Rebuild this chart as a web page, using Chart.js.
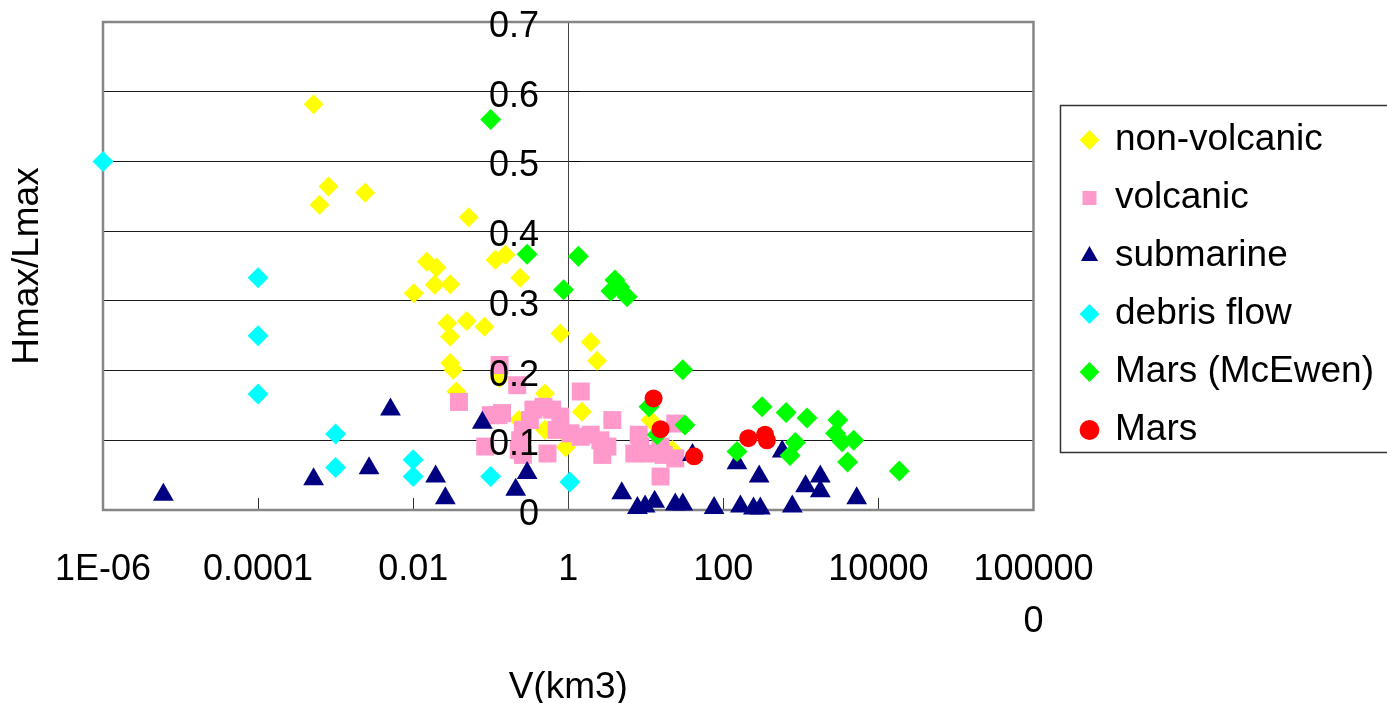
<!DOCTYPE html>
<html>
<head>
<meta charset="utf-8">
<title>Hmax/Lmax vs V</title>
<script src="https://cdn.jsdelivr.net/npm/chart.js@4.4.1/dist/chart.umd.min.js"></script>
<style>
  html, body { margin: 0; padding: 0; background: #fff; }
  canvas { display: block; }
</style>
</head>
<body>
<canvas id="chart" width="1387" height="703"></canvas>
<script>
// axis ticks
var xTickValues = [1e-6, 1e-4, 1e-2, 1, 100, 1e4, 1e6];
var xTickLabels = ['1E-06', '0.0001', '0.01', '1', '100', '10000', ['100000', '0']];
var yTickLabels = ['0', '0.1', '0.2', '0.3', '0.4', '0.5', '0.6', '0.7'];
var yAxisCross = 1;        // value axis crosses at V = 1
var yLabelCross = 0.42;    // labels end a little left of the crossing

// series: V (km3) and Hmax/Lmax
var nonVolcanicV = [5.2e-4, 8.1e-4, 6.2e-4, 2.4e-3, 0.052, 0.115, 0.155, 0.24, 0.015, 0.020, 0.019, 0.030,
  0.0102, 0.0275, 0.049, 0.030, 0.083, 0.79, 1.95, 2.35, 0.030, 0.033, 0.036, 0.13, 0.50, 1.5, 0.79, 0.50,
  0.93, 11.5, 22, 0.23];
var nonVolcanicH = [0.582, 0.464, 0.438, 0.455, 0.420, 0.359, 0.366, 0.333, 0.356, 0.348, 0.323, 0.324,
  0.311, 0.268, 0.271, 0.249, 0.263, 0.253, 0.241, 0.214, 0.211, 0.201, 0.170, 0.189, 0.167, 0.141, 0.115, 0.115,
  0.090, 0.129, 0.086, 0.129];

var volcanicV = [0.13, 0.22, 0.039, 1.45, 0.126, 0.10, 0.14, 0.355, 0.48, 0.32, 0.62, 0.79, 0.26, 0.24,
  0.085, 0.23, 0.26, 0.54, 0.71, 1.07, 1.45, 1.95, 2.6, 3.2, 2.75, 3.7, 8.1, 8.5, 7.1, 11.5, 15.5, 17, 24, 24, 15.5];
var volcanicH = [0.208, 0.179, 0.155, 0.170, 0.136, 0.136, 0.139, 0.144, 0.148, 0.129, 0.144, 0.134, 0.115, 0.100,
  0.091, 0.086, 0.079, 0.081, 0.115, 0.110, 0.105, 0.108, 0.100, 0.091, 0.079, 0.129, 0.108, 0.091, 0.081, 0.081,
  0.091, 0.079, 0.074, 0.124, 0.048];

var submarineV = [6.0e-6, 5.2e-4, 2.7e-3, 5.1e-3, 0.0195, 0.026, 0.078, 0.21, 0.295, 4.9, 7.8, 9.8, 13, 24, 30,
  76, 166, 245, 300, 290, 150, 40, 575, 775, 1150, 1780, 1780, 5250];
var submarineH = [0.022, 0.044, 0.060, 0.144, 0.048, 0.017, 0.125, 0.029, 0.053, 0.024, 0.003, 0.005, 0.012, 0.008, 0.008,
  0.003, 0.005, 0.002, 0.002, 0.048, 0.067, 0.079, 0.084, 0.005, 0.034, 0.048, 0.027, 0.017];

var debrisFlowV = [1e-6, 1e-4, 1e-4, 1e-4, 1e-3, 1e-3, 0.01, 0.01, 0.1, 1.05];
var debrisFlowH = [0.5, 0.333, 0.25, 0.1665, 0.109, 0.061, 0.072, 0.048, 0.048, 0.040];

var marsMcEwenV = [0.10, 0.295, 1.35, 0.87, 3.55, 4.0, 4.6, 5.75, 30, 11, 32, 14, 150, 316, 645, 1200, 850, 725,
  3000, 2800, 3400, 4800, 4000, 18600];
var marsMcEwenH = [0.560, 0.367, 0.364, 0.316, 0.314, 0.330, 0.320, 0.306, 0.201, 0.148, 0.122, 0.108, 0.084, 0.148,
  0.140, 0.132, 0.097, 0.078, 0.129, 0.110, 0.098, 0.100, 0.069, 0.056];

var marsV = [12.6, 15.5, 42, 210, 345, 365];
var marsH = [0.160, 0.116, 0.077, 0.103, 0.108, 0.100];

var FONT = "'Liberation Sans', Arial, sans-serif";

function pts(xs, ys) {
  return xs.map(function(v, i) { return { x: v, y: ys[i] }; });
}

function series(label, xs, ys, color, style, radius, order) {
  return {
    label: label,
    data: pts(xs, ys),
    backgroundColor: color,
    borderColor: color,
    borderWidth: 0,
    pointStyle: style,
    pointRadius: radius,
    pointHoverRadius: radius,
    clip: false,
    order: order
  };
}

var framePlugin = {
  id: 'frame',
  beforeDatasetsDraw: function(chart) {
    var a = chart.chartArea, ctx = chart.ctx;
    ctx.save();
    ctx.strokeStyle = '#868686';
    ctx.lineWidth = 2.5;
    ctx.strokeRect(a.left, a.top, a.right - a.left, a.bottom - a.top);
    ctx.restore();
  },
  afterDraw: function(chart) {
    var hb = chart.legend.legendHitBoxes;
    if (!hb || !hb.length) return;
    var first = hb[0], last = hb[hb.length - 1];
    var left = first.left - 22, top = first.top - 16;
    var bottom = last.top + last.height + 4;
    var ctx = chart.ctx;
    ctx.save();
    ctx.strokeStyle = '#333';
    ctx.lineWidth = 1.5;
    ctx.strokeRect(left, top, chart.width - left + 10, bottom - top);
    ctx.restore();
  }
};

var chart = new Chart(document.getElementById('chart').getContext('2d'), {
  type: 'scatter',
  data: {
    datasets: [
      series('non-volcanic', nonVolcanicV, nonVolcanicH, '#FFFF00', 'rectRot', 10, 6),
      series('volcanic', volcanicV, volcanicH, '#FF99CC', 'rect', 12.7, 5),
      series('submarine', submarineV, submarineH, '#000080', 'triangle', 12, 4),
      series('debris flow', debrisFlowV, debrisFlowH, '#00FFFF', 'rectRot', 10.5, 3),
      series('Mars (McEwen)', marsMcEwenV, marsMcEwenH, '#00FF00', 'rectRot', 10.5, 2),
      series('Mars', marsV, marsH, '#FF0000', 'circle', 9, 1)
    ]
  },
  options: {
    responsive: false,
    animation: false,
    events: [],
    layout: { padding: { top: 22, right: 3, bottom: 0, left: 0 } },
    plugins: {
      tooltip: { enabled: false },
      legend: {
        position: 'right',
        fullSize: false,
        maxWidth: 420,
        title: { display: true, text: '', padding: 0, font: { size: 38, lineHeight: 1 } },
        labels: {
          usePointStyle: true,
          boxWidth: 14,
          boxHeight: 14,
          padding: 21,
          color: '#000',
          font: { family: FONT, size: 37 },
          sort: function(a, b) { return a.datasetIndex - b.datasetIndex; }
        }
      }
    },
    scales: {
      x: {
        type: 'logarithmic',
        position: 'bottom',
        min: 1e-6,
        max: 1e6,
        afterBuildTicks: function(s) {
          s.ticks = xTickValues.map(function(v) { return { value: v }; });
        },
        afterFit: function(s) { s.height = 193; },
        grid: { display: true, drawOnChartArea: false, drawTicks: true, tickLength: -12, color: '#333', lineWidth: 1 },
        border: { display: false },
        ticks: {
          autoSkip: false,
          maxRotation: 0,
          padding: 46,
          color: '#000',
          font: { family: FONT, size: 36, lineHeight: 1.45 },
          callback: function(v, i) { return xTickLabels[i]; }
        },
        title: { display: true, text: 'V(km3)', color: '#000', font: { family: FONT, size: 37, lineHeight: 0.8 }, padding: 0 }
      },
      y: {
        position: 'left',
        min: 0,
        max: 0.7,
        ticks: { display: false, stepSize: 0.1 },
        grid: { color: '#1a1a1a', lineWidth: 1, drawTicks: false },
        border: { display: false },
        afterFit: function(s) { s.width = 103; },
        title: { display: true, text: 'Hmax/Lmax', color: '#000', font: { family: FONT, size: 37 }, padding: { top: 6, bottom: 0 } }
      },
      // the value axis line and its inner tick marks at V = 1
      yCross: {
        axis: 'y',
        position: { x: yAxisCross },
        min: 0,
        max: 0.7,
        ticks: { display: false, stepSize: 0.1 },
        grid: { display: true, drawOnChartArea: false, tickLength: -12, color: '#000' },
        border: { display: true, color: '#444', width: 1 }
      },
      // the value labels, right-aligned just left of the crossing, drawn above the markers
      yLabels: {
        axis: 'y',
        position: { x: yLabelCross },
        min: 0,
        max: 0.7,
        ticks: {
          z: 1,
          stepSize: 0.1,
          color: '#000',
          font: { family: FONT, size: 36, lineHeight: 0.28 },
          callback: function(v, i) { return ['', yTickLabels[i]]; }
        },
        grid: { display: false },
        border: { display: false }
      },
      gap: {
        axis: 'y',
        position: 'right',
        display: true,
        ticks: { display: false },
        grid: { display: false },
        border: { display: false },
        afterFit: function(s) { s.width = 28; }
      }
    }
  },
  plugins: [framePlugin]
});
</script>
</body>
</html>
